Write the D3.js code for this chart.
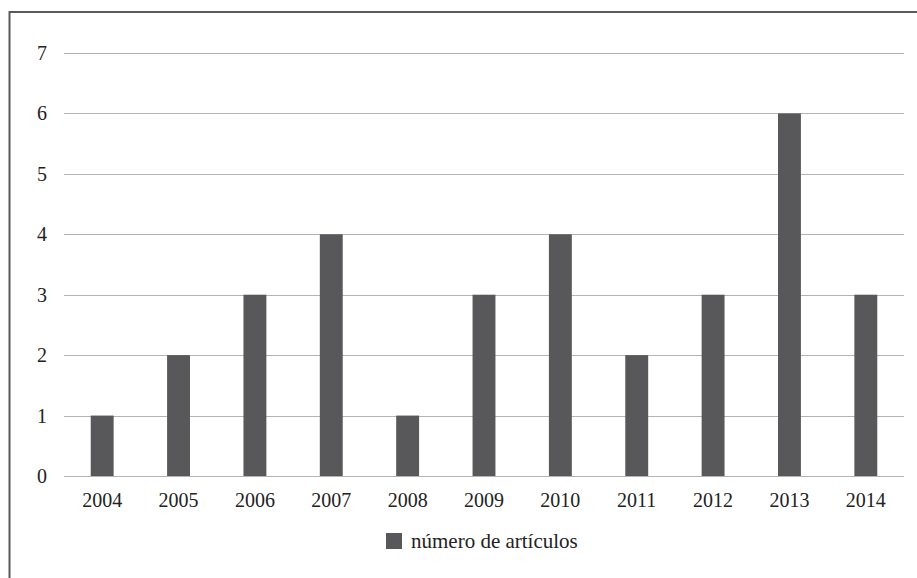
<!DOCTYPE html>
<html lang="es">
<head>
    <meta charset="UTF-8">
    <script src="https://d3js.org/d3.v7.min.js"></script>
    <title>número de artículos</title>
    <style>
        html,
        body {
            margin: 0px;
            padding: 0px;
            background-color: #ffffff;
        }
        svg text {
            font-family: "Liberation Serif", "Times New Roman", Times, "DejaVu Serif", serif;
        }
    </style>
</head>
<body>
    <div id="chart"></div>
    <script>
        // data
        const years = ['2004', '2005', '2006', '2007', '2008', '2009', '2010', '2011', '2012', '2013', '2014'];
        const articles = [1, 2, 3, 4, 1, 3, 4, 2, 3, 6, 3];
        const yTicks = [0, 1, 2, 3, 4, 5, 6, 7];
        const seriesName = 'número de artículos';

        let width = 917;
        let height = 578;
        let margin = {top: 53, left: 64, right: 13, bottom: 101};

        let svg = d3.select('#chart').append('svg')
            .attr('width', width)
            .attr('height', height)
            .attr('font-family', '"Liberation Serif", "Times New Roman", serif');

        // frame (only top and left edges fall inside the picture)
        svg.append('rect')
            .attr('x', 9.5)
            .attr('y', 12)
            .attr('width', 1000)
            .attr('height', 1000)
            .attr('fill', 'none')
            .attr('stroke', '#5a5a5a')
            .attr('stroke-width', 2);

        let x = d3.scaleBand()
            .domain(years)
            .range([margin.left, width - margin.right]);

        let y = d3.scaleLinear()
            .domain([0, 7])
            .range([height - margin.bottom - 1, margin.top]);

        // gridlines
        svg.append('g')
            .selectAll('line')
            .data(yTicks)
            .join('line')
            .attr('x1', margin.left)
            .attr('x2', width - margin.right)
            .attr('y1', d => Math.round(y(d)) + 0.5)
            .attr('y2', d => Math.round(y(d)) + 0.5)
            .attr('stroke', '#b3b3b3')
            .attr('stroke-width', 1.2);

        // y labels
        svg.append('g')
            .selectAll('text')
            .data(yTicks)
            .join('text')
            .attr('x', 47)
            .attr('y', d => y(d) + 7)
            .attr('text-anchor', 'end')
            .attr('font-size', 20)
            .attr('fill', '#222')
            .text(d => d);

        // bars
        let barW = x.bandwidth() * 0.3;
        svg.append('g')
            .selectAll('rect')
            .data(articles)
            .join('rect')
            .attr('x', (d, i) => x(years[i]) + (x.bandwidth() - barW) / 2)
            .attr('y', d => y(d))
            .attr('width', barW)
            .attr('height', d => y(0) - y(d))
            .attr('fill', '#58585a');

        // x labels
        svg.append('g')
            .selectAll('text')
            .data(years)
            .join('text')
            .attr('x', d => x(d) + x.bandwidth() / 2)
            .attr('y', 507)
            .attr('text-anchor', 'middle')
            .attr('font-size', 20)
            .attr('fill', '#222')
            .text(d => d);

        // legend
        let legend = svg.append('g');
        legend.append('rect')
            .attr('x', 386)
            .attr('y', 533)
            .attr('width', 16)
            .attr('height', 16)
            .attr('fill', '#58585a');
        legend.append('text')
            .attr('x', 411)
            .attr('y', 548)
            .attr('font-size', 21)
            .attr('fill', '#222')
            .text(seriesName);
    </script>
</body>
</html>
